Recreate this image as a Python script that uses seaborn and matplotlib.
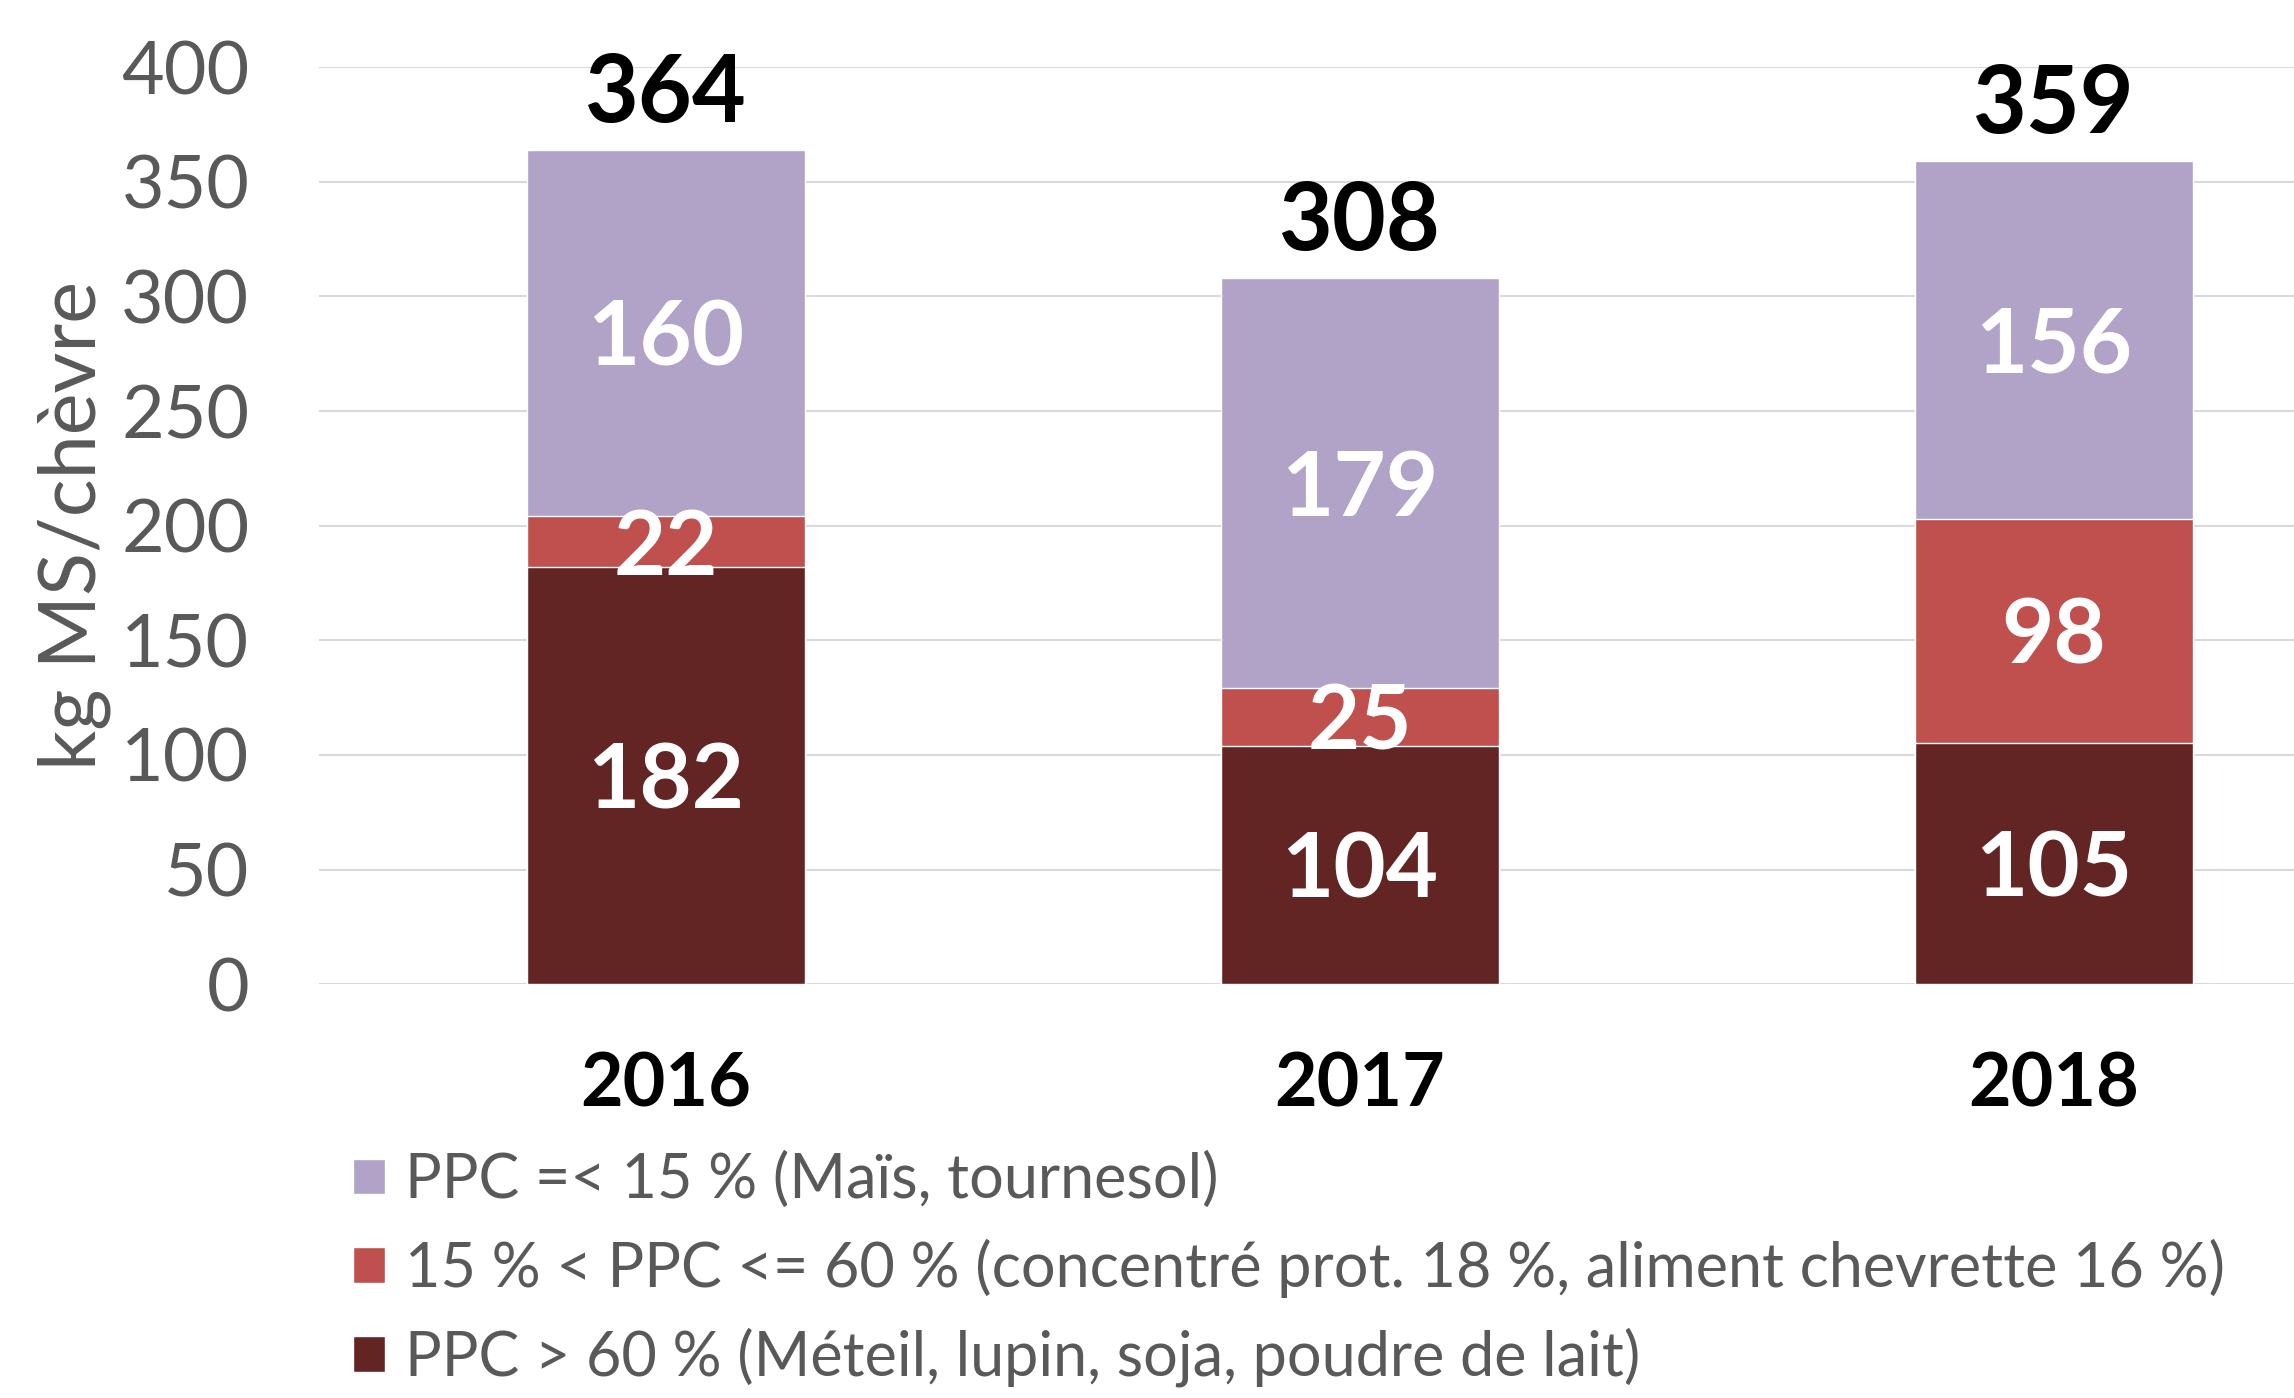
import pandas as pd
import seaborn as sns
import matplotlib.pyplot as plt
from matplotlib.patches import Patch

# data
years = ["2016", "2017", "2018"]
ppc_high = [182, 104, 105]   # PPC > 60 %
ppc_mid = [22, 25, 98]       # 15 % < PPC <= 60 %
ppc_low = [160, 179, 156]    # PPC =< 15 %
totals = [364, 308, 359]

labels = [
    "PPC =< 15 % (Maïs, tournesol)",
    "15 % < PPC <= 60 % (concentré prot. 18 %, aliment chevrette 16 %)",
    "PPC > 60 % (Méteil, lupin, soja, poudre de lait)",
]
colors = ["#B1A2C7", "#C0504D", "#632523"]

df = pd.DataFrame({"year": years, "high": ppc_high, "mid": ppc_mid, "low": ppc_low})
df["lvl1"] = df["high"]
df["lvl2"] = df["high"] + df["mid"]
df["lvl3"] = df["high"] + df["mid"] + df["low"]

sns.set_theme(style="white")
plt.rcParams["font.family"] = ["Lato", "DejaVu Sans"]

fig = plt.figure(figsize=(22.94, 13.98), dpi=100)
ax = fig.add_axes([0.139, 0.296, 0.861, 0.656])

#stacked bars: draw tallest first then overlay
sns.barplot(data=df, x="year", y="lvl3", color=colors[0], width=0.4, saturation=1, ax=ax, zorder=3)
sns.barplot(data=df, x="year", y="lvl2", color=colors[1], width=0.4, saturation=1, ax=ax, zorder=3)
sns.barplot(data=df, x="year", y="lvl1", color=colors[2], width=0.4, saturation=1, ax=ax, zorder=3)

#labels inside segments (slightly lowered, like the reference)
for i in range(len(years)):
    ax.text(i, ppc_high[i] / 2 - 3, str(ppc_high[i]), ha="center", va="center",
            color="white", fontsize=65, fontweight="bold", zorder=5)
    ax.text(i, ppc_high[i] + ppc_mid[i] / 2 - 3, str(ppc_mid[i]), ha="center", va="center",
            color="white", fontsize=65, fontweight="bold", zorder=5)
    ax.text(i, ppc_high[i] + ppc_mid[i] + ppc_low[i] / 2 - 3, str(ppc_low[i]), ha="center", va="center",
            color="white", fontsize=65, fontweight="bold", zorder=5)
    ax.text(i, totals[i] + 24, str(totals[i]), ha="center", va="center",
            color="black", fontsize=67, fontweight="bold", zorder=5)

ax.set_ylim(0, 400)
ax.set_xlim(-0.5, 2.346)
ax.set_yticks(range(0, 401, 50))
ax.yaxis.grid(True, color="#D9D9D9", linewidth=1.5, zorder=0)
ax.xaxis.grid(False)
sns.despine(ax=ax, left=True, bottom=True)

ax.tick_params(axis="y", labelsize=53, labelcolor="#595959", pad=50, length=0)
ax.tick_params(axis="x", labelsize=53, labelcolor="black", pad=48, length=0)
for t in ax.get_xticklabels():
    t.set_fontweight("bold")

ax.set_xlabel("")
ax.set_ylabel("kg MS/chèvre", fontsize=57, color="#595959")
ax.yaxis.set_label_coords(-0.105, 0.5)

handles = [Patch(facecolor=c) for c in colors]
leg = fig.legend(handles, labels, loc="upper left", bbox_to_anchor=(0.154, 0.176),
                 frameon=False, fontsize=44, handlelength=0.52, handleheight=0.52,
                 handletextpad=0.32, labelspacing=0.48, borderpad=0, borderaxespad=0)
for t in leg.get_texts():
    t.set_color("#595959")

plt.savefig("out.png", dpi=100)
